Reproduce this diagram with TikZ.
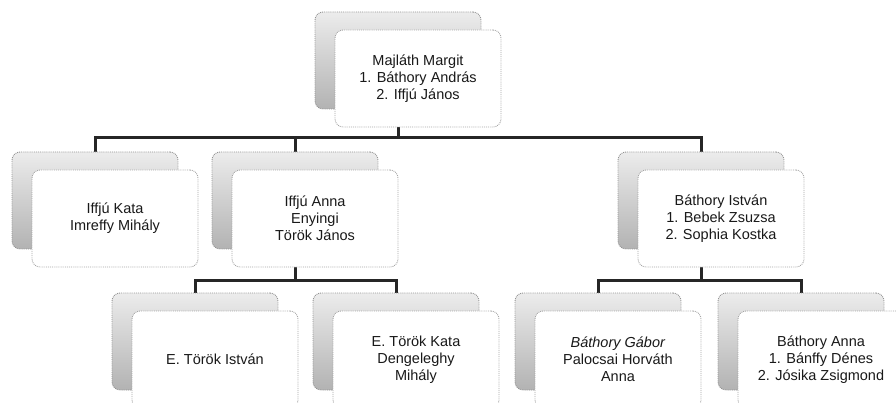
\documentclass[tikz,border=0pt]{standalone}
\usepackage{fontspec}
\setmainfont{Liberation Sans}
\pgfdeclarelayer{background}
\pgfsetlayers{background,main}

\begin{document}
\begin{tikzpicture}[x=1pt,y=-1pt]
	\tikzstyle{every node}=[font=\fontsize{14.5}{17}\selectfont]
	\tikzstyle{backbox}=[draw=gray!85,densely dotted,line width=0.9pt,rounded corners=8pt,top color=gray!15,bottom color=gray!60,minimum width=166pt,minimum height=97pt,inner sep=0pt]
	\tikzstyle{frontbox}=[draw=gray!70,densely dotted,line width=0.9pt,rounded corners=8pt,fill=white,minimum width=166pt,minimum height=97pt,inner sep=2pt,align=center,text=black!90]
	\tikzstyle{conn}=[line width=3pt,draw=black!85]
	\useasboundingbox (0,0) rectangle (896,403);

	% top
	\node[backbox] (margitb) at (398,60.5) {};
	\node[frontbox] (margit) at (418,78.5) {Majláth Margit\\1. Báthory András\\2. Iffjú János};

	% first row
	\node[backbox] (katab) at (95,200.5) {};
	\node[frontbox] (kata) at (115,218.5) {Iffjú Kata\\Imreffy Mihály};
	\node[backbox] (annab) at (295,200.5) {};
	\node[frontbox] (anna) at (315,218.5) {Iffjú Anna\\Enyingi\\Török János};
	\node[backbox] (istvanb) at (701,200.5) {};
	\node[frontbox] (istvan) at (721,218.5) {Báthory István\\1. Bebek Zsuzsa\\2. Sophia Kostka};

	% second row
	\node[backbox] (tistvanb) at (195,341.5) {};
	\node[frontbox] (tistvan) at (215,359.5) {E. Török István};
	\node[backbox] (tkatab) at (396,341.5) {};
	\node[frontbox] (tkata) at (416,359.5) {E. Török Kata\\Dengeleghy\\Mihály};
	\node[backbox] (gaborb) at (598,341.5) {};
	\node[frontbox] (gabor) at (618,359.5) {\textit{Báthory Gábor}\\Palocsai Horváth\\Anna};
	\node[backbox] (bannab) at (801,341.5) {};
	\node[frontbox] (banna) at (821,359.5) {Báthory Anna\\1. Bánffy Dénes\\2. Jósika Zsigmond};

	% connectors
	\begin{pgfonlayer}{background}
	\coordinate (bus) at (398,138);
	\draw[conn] (margitb.south) -- (bus);
	\draw[conn] (bus) -| (katab.north);
	\draw[conn] (bus) -| (annab.north);
	\draw[conn] (bus) -| (istvanb.north);

	\coordinate (busa) at (295,280);
	\draw[conn] (annab.south) -- (busa);
	\draw[conn] (busa) -| (tistvanb.north);
	\draw[conn] (busa) -| (tkatab.north);

	\coordinate (busb) at (701,280);
	\draw[conn] (istvanb.south) -- (busb);
	\draw[conn] (busb) -| (gaborb.north);
	\draw[conn] (busb) -| (bannab.north);
	\end{pgfonlayer}
\end{tikzpicture}
\end{document}
